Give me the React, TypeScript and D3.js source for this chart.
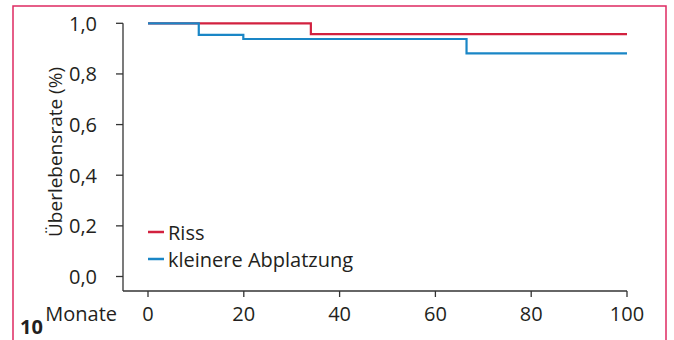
import React from "react";
import * as d3 from "d3";

const rissTimes = [0, 34, 100];
const rissValues = [1.0, 0.957, 0.957];
const abplTimes = [0, 10.6, 19.9, 66.5, 100];
const abplValues = [1.0, 0.954, 0.938, 0.881, 0.881];
const xTicks = [0, 20, 40, 60, 80, 100];
const yTicks = [0, 0.2, 0.4, 0.6, 0.8, 1.0];
const legendLabels = ["Riss", "kleinere Abplatzung"];
const colors = ["#d2213f", "#1a86c6"];

const W = 674;
const H = 340;
const FONT = "'Open Sans', sans-serif";
const FS = 20;

export default function App() {
  const x = d3.scaleLinear().domain([0, 100]).range([148, 627]);
  const y = d3.scaleLinear().domain([0, 1]).range([276.5, 23.3]);
  const line = d3
    .line<[number, number]>()
    .x((d) => x(d[0]))
    .y((d) => y(d[1]))
    .curve(d3.curveStepAfter);
  const series = [
    rissTimes.map((t, i) => [t, rissValues[i]] as [number, number]),
    abplTimes.map((t, i) => [t, abplValues[i]] as [number, number]),
  ];
  const fmt = (v: number) => v.toFixed(1).replace(".", ",");
  const axisX = 123;
  const axisY = 291;
  return (
    <svg
      width={W}
      height={H}
      style={{ position: "absolute", left: 0, top: 0, background: "#fff" }}
      fontFamily={FONT}
    >
      <rect x={13} y={6} width={653} height={350} fill="none" stroke="#de2a62" strokeWidth={1.5} />
      {/* y axis */}
      <line x1={axisX} x2={axisX} y1={y(1)} y2={axisY} stroke="#333" strokeWidth={1.3} />
      {yTicks.map((t) => (
        <g key={t}>
          <line x1={axisX - 7} x2={axisX} y1={y(t)} y2={y(t)} stroke="#333" strokeWidth={1.3} />
          <text x={97} y={y(t)} textAnchor="end" dominantBaseline="central" fontSize={FS} fill="#231f20">
            {fmt(t)}
          </text>
        </g>
      ))}
      {/* x axis */}
      <line x1={axisX} x2={x(100)} y1={axisY} y2={axisY} stroke="#333" strokeWidth={1.3} />
      {xTicks.map((t) => (
        <g key={t}>
          <line x1={x(t)} x2={x(t)} y1={axisY} y2={axisY + 6} stroke="#333" strokeWidth={1.3} />
          <text x={x(t)} y={320.5} textAnchor="middle" fontSize={FS} fill="#231f20">
            {t}
          </text>
        </g>
      ))}
      <text x={117} y={320.5} textAnchor="end" fontSize={FS} fill="#231f20">
        Monate
      </text>
      <text x={20} y={334} fontSize={FS} fontWeight="bold" fill="#231f20">
        10
      </text>
      <text
        transform={`translate(62,152) rotate(-90)`}
        textAnchor="middle"
        fontSize={19}
        fill="#231f20"
      >
        Überlebensrate (%)
      </text>
      {series.map((s, i) => (
        <path key={i} d={line(s) || ""} fill="none" stroke={colors[i]} strokeWidth={2.2} />
      ))}
      {legendLabels.map((l, i) => (
        <g key={l}>
          <line x1={148} x2={164} y1={232 + i * 27} y2={232 + i * 27} stroke={colors[i]} strokeWidth={2.5} />
          <text x={168} y={232 + i * 27} dominantBaseline="central" fontSize={FS} fill="#231f20">
            {l}
          </text>
        </g>
      ))}
    </svg>
  );
}
